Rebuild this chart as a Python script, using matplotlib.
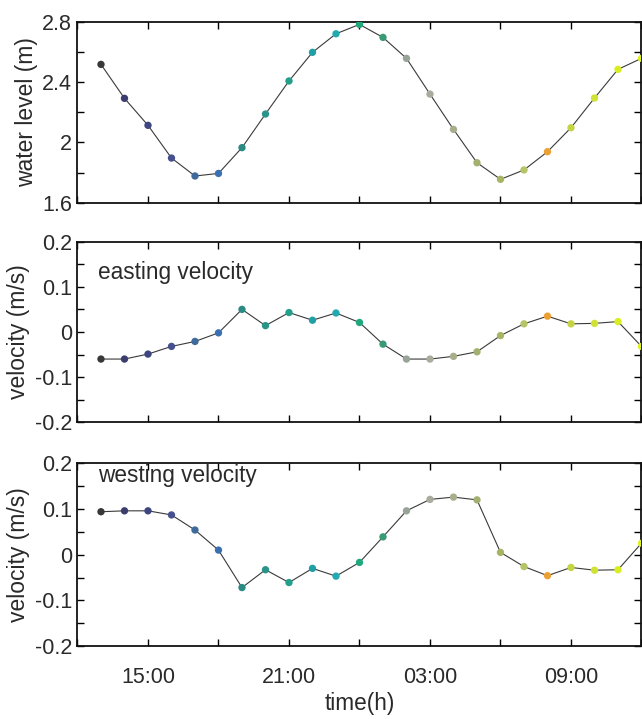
import matplotlib
matplotlib.use("Agg")
import matplotlib.pyplot as plt
import numpy as np

# ---- data ----
hours = list(range(13, 37))  # 13:00 day 1 ... 12:00 day 2
water_level = [2.517, 2.292, 2.113, 1.896, 1.777, 1.794, 1.965, 2.188, 2.407, 2.597,
               2.720, 2.782, 2.696, 2.557, 2.320, 2.086, 1.865, 1.755, 1.817, 1.938,
               2.097, 2.294, 2.484, 2.557]
easting = [-0.060, -0.060, -0.049, -0.032, -0.021, -0.002, 0.050, 0.014, 0.043, 0.026,
           0.042, 0.021, -0.027, -0.060, -0.060, -0.054, -0.044, -0.008, 0.018, 0.035,
           0.018, 0.019, 0.023, -0.032]
westing = [0.094, 0.096, 0.096, 0.087, 0.054, 0.010, -0.072, -0.033, -0.061, -0.030,
           -0.047, -0.017, 0.039, 0.096, 0.121, 0.126, 0.120, 0.005, -0.026, -0.046,
           -0.028, -0.034, -0.033, 0.025]
point_colors = ['#383838', '#3a3d6e', '#3d4680', '#45508c', '#3f6a9c', '#3a70b0',
                '#2a8a84', '#2a9488', '#22a08c', '#20a0a4', '#22aab0', '#20a87c',
                '#3a9a74', '#98a498', '#a8ac9c', '#a8ae8c', '#a2b070', '#a6b464',
                '#b4c468', '#eca034', '#c4d444', '#d0e234', '#d8ee22', '#e2f020']

x_ticks = list(range(12, 37, 3))
x_ticklabels = ['', '15:00', '', '21:00', '', '03:00', '', '09:00', '']

wl_ticks = [1.6, 1.8, 2.0, 2.2, 2.4, 2.6, 2.8]
wl_ticklabels = ['1.6', '', '2', '', '2.4', '', '2.8']
v_ticks = [-0.2, -0.15, -0.1, -0.05, 0.0, 0.05, 0.1, 0.15, 0.2]
v_ticklabels = ['-0.2', '', '-0.1', '', '0', '', '0.1', '', '0.2']

plt.rcParams['font.family'] = ['Liberation Sans', 'DejaVu Sans']
txt_color = '#2a2a2a'

fig = plt.figure(figsize=(6.42, 7.19), dpi=100)
left, width = 0.1207, 0.8785
ax1 = fig.add_axes([left, 0.7181, width, 0.2517])
ax2 = fig.add_axes([left, 0.4127, width, 0.2512])
ax3 = fig.add_axes([left, 0.1015, width, 0.2541])

panels = [
    (ax1, water_level, wl_ticks, wl_ticklabels, (1.6, 2.8), 'water level (m)', None),
    (ax2, easting, v_ticks, v_ticklabels, (-0.2, 0.2), 'velocity (m/s)', ('easting velocity', 0.827)),
    (ax3, westing, v_ticks, v_ticklabels, (-0.2, 0.2), 'velocity (m/s)', ('westing velocity', 0.936)),
]

for ax, vals, yt, ytl, ylim, ylab, note in panels:
    ax.plot(hours, vals, color='#3a3a3a', lw=0.8, zorder=2)
    ax.scatter(hours, vals, c=point_colors, s=28, edgecolors='none', zorder=3)
    ax.set_xlim(12, 36)
    ax.set_ylim(*ylim)
    ax.set_xticks(x_ticks)
    ax.set_yticks(yt)
    ax.set_yticklabels(ytl)
    ax.tick_params(direction='in', length=5, width=1.0, top=True, right=True,
                   labelsize=15.5, labelcolor=txt_color, pad=4)
    for s in ax.spines.values():
        s.set_linewidth(1.3)
        s.set_color('#111111')
    ax.set_ylabel(ylab, fontsize=16.5, color=txt_color, labelpad=3)
    if note is not None:
        ax.text(0.036, note[1], note[0], transform=ax.transAxes, fontsize=16.3,
                color=txt_color, ha='left', va='center')
    if ax is ax3:
        ax.set_xticklabels(x_ticklabels)
        ax.tick_params(axis='x', pad=15)
        ax.set_xlabel('time(h)', fontsize=16.3, color=txt_color, labelpad=3)
    else:
        ax.set_xticklabels([])

fig.align_ylabels([ax1, ax2, ax3])
fig.savefig('out.png', dpi=100)
